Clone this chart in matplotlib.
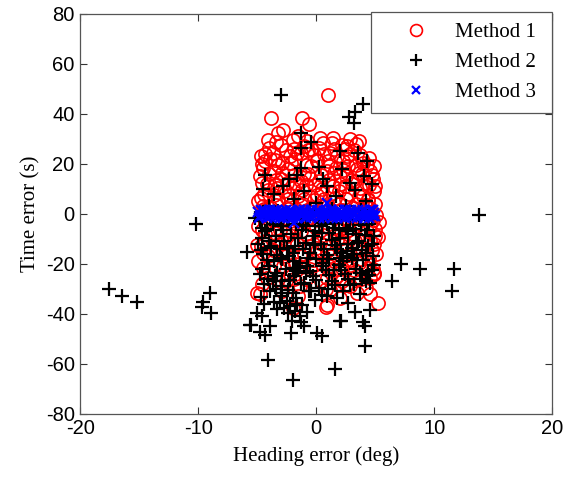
import matplotlib
matplotlib.use("Agg")
import matplotlib.pyplot as plt

plt.rcParams["axes.unicode_minus"] = False

# ---------------- data ----------------
# Method 1 (red circles)
m1_x = [1.0, -3.8, -1.2, -0.6, 3.6, -3.2, 0.6, -3.4, -2.0, 0.3, -2.8, -1.5, 2.9, -4.0,
        -4.3, -2.6, -1.0, 1.5, 2.6, 3.9, 4.3, -4.6, -3.5, -0.2, 1.0, 2.2, -1.8, 3.2, 4.6,
        -4.8, -4.2, -3.6, -3.0, -2.4, -1.7, -1.0, -0.4, 0.2, 0.9, 1.4, 2.0, 2.7, 3.3, 3.9,
        4.5, 4.8, -4.5, -2.0, 0.5, 2.4, 3.7, -3.3, 1.7, -0.9,
        -4.9, -4.4, -3.8, -3.2, -2.7, -2.1, -1.5, -0.8, -0.2, 0.4, 1.0, 1.6, 2.2, 2.8, 3.4,
        4.0, 4.6, 4.9, -4.0, -1.2, 1.3, 3.7, 5.1,
        -4.9, -4.3, -3.7, -3.1, -2.5, -1.9, -1.3, -0.6, 0.0, 0.6, 1.2, 1.9, 2.5, 3.1, 3.7,
        4.3, 4.8, 5.0, -4.6, 2.2, 5.3, 5.2,
        -4.7, -4.1, -3.5, -2.9, -2.3, -1.6, -1.0, -0.3, 0.3, 0.9, 1.5, 2.1, 2.7, 3.3, 3.9,
        4.5, 4.9, -4.9, 5.1, 1.8, -5.0,
        -4.6, -4.0, -3.2, -2.2, -1.4, -0.5, 0.4, 1.1, 1.8, 2.5, 3.2, 3.8, 4.4, 4.9, -3.6,
        2.9, 0.8, 4.2, 1.2, 4.86, 2.9,
        -4.8, -2.9, 0.9, 5.2, 3.5, -1.5, 2.0, 4.6, -5.0, -2.0, 0.8,
        -1.1, 0.1, 1.2, 2.3, -2.3, -3.9, 3.0, 4.1, -0.5, 1.9, -2.9, -4.1, 0.7, 2.6, -1.6,
        3.5, -3.4, 1.4, -0.7, 4.4, -4.4, 0.0, 2.0, -2.6, 3.8, -1.9, 1.1, -3.0, 4.7, 0.5,
        -3.0, -1.9, -0.8, 0.2, 1.3, 2.4, 3.4, -4.1,
        -4.7, -3.7, -2.2, -1.3, -0.4, 0.7, 1.8, 2.9, 3.7, 4.5,
        -4.3, -3.2, -2.1, -0.9, 0.1, 1.2, 2.3, 3.4, 4.0, 4.9,
        -4.0, -2.9, -1.9, -0.7, 0.4, 1.5, 2.5, 3.6, 4.7,
        -4.6, -3.5, -2.5, -1.3, -0.1, 1.1, 2.0, 3.0, 4.2, 5.0,
        -4.7, -3.6, -2.4, -1.0, 0.1, 1.3, 2.5, 3.6, 4.4,
        -4.5, -3.4, -2.4, -1.3, -0.4, 0.7, 1.9, 3.0, 4.2, 5.0,
        -4.3, -3.3, -2.2, -1.1, 0.2, 1.5, 2.8, 3.9, 4.6,
        -4.6, -3.5, -2.3, -0.9, 0.4, 1.6, 2.7, 4.0, 5.0,
        -4.3, -3.1, -2.0, -0.6, 0.7, 2.4, 3.6, 4.6,
        -4.5, -3.7, -2.5, -1.4, 0.1, 1.2, 2.9, 4.2,
        -4.5, -2.8, -1.8, -0.2, 1.5, 2.2, 3.6, 4.8,
        -4.2, -2.6, -0.9, 0.9, 2.2, 3.3, 4.6]
m1_y = [47.6, 38.3, 38.5, 35.9, 29.2, 32.3, 28.3, 28.9, 29.6, 30.5, 33.5, 31.0, 30.0, 26.5,
        24.0, 25.5, 27.0, 26.0, 23.0, 22.0, 19.5, 20.0, 21.5, 23.5, 21.0, 27.5, 22.0, 25.5, 17.0,
        15.0, 12.0, 17.0, 14.0, 18.0, 12.5, 16.0, 19.0, 13.0, 17.0, 11.0, 15.0, 19.0, 13.0, 16.0,
        11.5, 14.0, 18.5, 10.5, 10.0, 11.0, 10.5, 10.2, 18.5, 11.5,
        5.0, 8.0, 2.5, 6.0, 9.0, 3.5, 7.0, 1.5, 5.5, 8.5, 3.0, 6.5, 1.5, 8.0, 4.0,
        7.0, 2.5, 9.0, 0.5, 9.5, 0.5, 0.8, -0.5,
        -5.0, -8.0, -2.5, -6.5, -9.0, -3.5, -7.0, -1.5, -5.5, -8.5, -3.0, -6.5, -1.5, -8.0, -4.0,
        -7.0, -2.5, -9.0, -1.0, -9.8, -3.1, -9.1,
        -13.0, -17.0, -11.0, -15.0, -19.0, -12.0, -16.0, -18.5, -11.5, -15.0, -19.0, -12.5, -16.5, -11.0, -14.0,
        -18.0, -12.0, -19.0, -16.0, -10.5, -12.4,
        -28.0, -23.0, -26.0, -24.0, -29.0, -22.0, -27.0, -21.0, -25.0, -28.5, -22.5, -26.0, -21.5, -24.0, -21.0,
        -20.5, -30.0, -29.5, -30.4, -23.6, -29.0,
        -32.0, -31.0, -36.4, -35.6, -31.5, -33.0, -33.5, -32.0, -31.7, -37.7, -37.1,
        4.0, 21.5, 24.5, 17.5, 7.5, 22.0, 12.0, 3.5, 14.5, 9.0, 20.5, 9.5, 6.0, 27.0, 24.5,
        18.0, 13.5, 30.5, 25.5, 5.5, 2.0, -13.5, -22.0, -17.0, -18.0, -26.0, -5.5, -10.5, -14.5, -20.0,
        27.5, 26.0, 29.0, 26.5, 28.5, 26.0, 28.0, 29.5,
        23.0, 24.5, 23.0, 24.5, 26.0, 24.0, 23.0, 24.0, 23.5, 22.5,
        21.0, 19.5, 20.5, 19.5, 21.0, 19.5, 21.0, 19.5, 20.5, 19.0,
        16.0, 16.5, 15.5, 16.0, 15.5, 16.5, 15.0, 16.5, 15.5,
        12.5, 11.5, 12.5, 13.0, 11.5, 13.5, 12.0, 13.5, 12.5, 11.0,
        6.5, 7.5, 6.0, 6.0, 7.5, 8.5, 6.0, 7.0, 6.0,
        3.0, 3.5, 2.0, 3.5, 2.5, 3.0, 4.0, 2.5, 3.5, 4.0,
        -3.5, -2.0, -3.0, -2.5, -2.5, -1.8, -3.5, -2.0, -4.5,
        -6.5, -7.5, -6.5, -8.0, -6.5, -8.5, -6.5, -9.0, -6.0,
        -11.0, -12.0, -11.5, -13.0, -12.5, -14.0, -13.5, -10.5,
        -15.5, -14.5, -15.5, -16.5, -15.0, -17.0, -18.5, -15.5,
        -21.5, -21.0, -20.0, -20.5, -22.5, -21.5, -19.5, -22.0,
        -25.5, -27.0, -26.0, -25.5, -27.0, -25.5, -25.5]

# Method 2 (black plus)
m2_x = [-17.6, -16.5, -15.2, -10.15, -8.97, -9.6, -9.7, -8.9, -5.85, -5.65,
        13.8, 7.15, 8.76, 6.45, 11.67, 11.53,
        -5.5, -4.8, -4.36, -3.9, -4.07, -1.98, -2.1, -1.05, 0.08, 0.5, 1.58, 1.98, 4.1, 4.1,
        -2.97, 3.95, 3.27, 2.82, 3.19, -1.33, -0.48, -1.27, 2.0, 3.53, 0.28, -1.33, 4.04,
        -4.3, -2.3, -1.6,
        -4.5, -3.6, -2.8, -1.9, -1.0, 0.0, 0.9, 1.7, 2.5, 3.3, 4.2, 4.7, -4.0, -0.5, 1.3,
        2.9, -3.2, 3.8, -5.2, 2.2, 0.6, 4.3,
        -4.8, -4.3, -3.9, -3.4, -3.0, -2.5, -2.1, -1.7, -1.2, -0.7, -0.3, 0.2, 0.7, 1.1, 1.6,
        2.0, 2.5, 2.9, 3.4, 3.8, 4.3, 4.7, 4.9, -4.6, -1.5, 0.9, 3.1,
        -4.9, -4.5, -4.0, -3.6, -3.1, -2.7, -2.3, -1.8, -1.4, -0.9, -0.5, 0.0, 0.4, 0.9, 1.3,
        1.8, 2.3, 2.7, 3.2, 3.6, 4.0, 4.4, 4.8, -3.3, 0.6, 2.0, -2.0, 3.9,
        -4.8, -4.4, -4.0, -3.5, -3.0, -2.6, -2.2, -1.7, -1.3, -0.8, -0.3, 0.2, 0.8, 1.3, 1.9,
        2.4, 2.9, 3.4, 3.9, 4.4, 4.9, -2.4, 1.0, 4.6, -2.3,
        -5.0, -2.06, 3.3, 4.0, -0.06, 1.8, -0.77, -1.33, -4.7, -3.6, -2.75, -2.9, -2.5,
        -2.2, -1.8, -1.4, -3.3, -4.6, 2.06, -3.0, -1.6, 0.9, 2.7, 4.6, -0.4,
        -4.2, -3.8, -2.9, -2.0, -1.1, -0.1, 0.5, 1.5, 2.6, 3.5, 4.5, -3.7, -0.9, 1.9, 3.0,
        -4.6, -3.7, -2.8, -2.3, -1.4, -0.9, -0.1, 0.5, 1.4, 2.2, 2.7, 3.6, 4.1, 4.5,
        -4.7, -4.2, -3.8, -3.0, -2.5, -1.9, -1.1, -0.7, -0.2, 0.7, 1.1, 1.6, 2.1, 2.6, 3.0,
        3.5, 4.2, 4.7,
        -4.6, -4.1, -3.3, -2.9, -1.9, -1.5, -1.0, -0.5, 0.0, 0.5, 1.1, 1.6, 2.1, 2.7, 3.2,
        3.7, 4.2, 4.7,
        -3.9, -3.4, -2.0, -1.7, -1.2, -0.6, 0.5, 2.3, 3.7, -4.4, -3.1, -2.4]
m2_y = [-30.1, -32.8, -35.3, -4.1, -31.5, -35.3, -37.1, -39.5, -15.3, -44.4,
        -0.4, -20.0, -22.0, -26.8, -22.1, -30.7,
        -44.4, -47.1, -48.4, -44.8, -58.4, -66.4, -47.7, -44.8, -47.5, -49.0, -62.0, -43.0, -45.0, -53.0,
        47.6, 43.9, 40.9, 38.9, 36.5, 32.3, 28.9, 26.5, 25.2, 24.5, 18.7, 18.3, 15.3,
        15.6, 13.9, 15.6,
        10.0, 8.0, 11.0, 6.0, 9.0, 4.5, 11.0, 7.0, 3.0, 9.5, 5.0, 12.0, 3.0, 1.5, 2.0,
        12.5, 1.0, 1.5, -1.5, 18.0, 14.0, 21.0,
        -3.0, -7.0, -2.0, -9.0, -5.0, -1.5, -8.0, -4.0, -6.5, -2.5, -9.0, -5.0, -1.5, -7.5, -3.5,
        -9.5, -5.5, -2.5, -8.0, -4.5, -6.5, -2.0, -9.0, -9.5, -9.8, -4.0, -6.0,
        -12.0, -16.0, -11.0, -19.0, -14.0, -11.0, -17.0, -13.0, -19.5, -11.5, -15.5, -18.0, -12.0, -16.5, -10.5,
        -14.0, -19.0, -12.0, -16.0, -10.8, -18.5, -13.0, -17.0, -16.5, -19.5, -17.5, -15.5, -14.5,
        -24.0, -28.0, -21.0, -25.0, -29.0, -22.0, -26.5, -23.0, -28.0, -21.0, -25.0, -29.5, -22.5, -27.0, -20.5,
        -24.0, -28.5, -22.0, -26.0, -23.0, -20.5, -30.5, -30.0, -27.5, -26.4,
        -39.7, -42.7, -39.1, -43.1, -34.4, -33.7, -39.1, -43.1, -33.1, -35.1, -37.7, -33.0, -35.0,
        -37.0, -39.0, -41.0, -38.0, -41.0, -42.7, -31.5, -36.0, -33.0, -35.5, -38.5, -31.0,
        -6.0, -13.5, -18.0, -21.5, -4.5, -12.5, -7.5, -22.5, -15.0, -11.5, -24.5, -27.0, -23.5, -6.5, -17.5,
        -5.5, -4.0, -6.5, -3.0, -2.0, -5.0, -7.0, -3.5, -5.5, -2.0, -7.0, -2.5, -8.5, -4.0,
        -14.5, -18.5, -13.0, -17.5, -13.5, -19.0, -14.0, -17.5, -12.5, -14.0, -18.0, -12.5, -15.5, -17.0, -13.5,
        -18.5, -15.5, -12.0,
        -22.0, -26.0, -23.5, -27.0, -25.0, -21.5, -27.5, -23.0, -26.5, -21.0, -24.5, -28.5, -22.5, -26.0, -28.0,
        -23.5, -27.0, -22.5,
        -31.0, -30.0, -31.5, -33.5, -36.5, -31.0, -32.5, -31.0, -32.0, -36.0, -35.5, -39.5]

# Method 3 (blue x)
m3_x = [-4.9, -4.75, -4.62, -4.48, -4.33, -4.21, -4.05, -3.94, -3.81, -3.66, -3.52, -3.41,
        -3.27, -3.12, -3.01, -2.86, -2.74, -2.6, -2.47, -2.33, -2.19, -2.08, -1.93, -1.8,
        -1.67, -1.52, -1.4, -1.26, -1.13, -0.98, -0.86, -0.72, -0.59, -0.45, -0.31, -0.2,
        -0.06, 0.08, 0.21, 0.35, 0.47, 0.62, 0.74, 0.89, 1.02, 1.15, 1.29, 1.41, 1.56,
        1.68, 1.83, 1.95, 2.1, 2.22, 2.37, 2.5, 2.63, 2.77, 2.9, 3.04, 3.17, 3.31, 3.44,
        3.58, 3.7, 3.85, 3.97, 4.12, 4.25, 4.39, 4.52, 4.66, 4.79, 4.9,
        -4.85, -4.4, -3.9, -3.3, -2.8, -2.2, -1.6, -1.0, -0.4, 0.15, 0.7, 1.25, 1.8,
        2.45, 3.0, 3.55, 4.05, 4.6, 4.95, -1.9, 0.93,
        -4.68, -4.15, -3.6, -3.05, -2.55, -2.0, -1.45, -0.9, -0.35, 0.25, 0.8, 1.35, 1.9,
        2.4, 2.95, 3.5, 4.0, 4.5, 4.85, -4.3, -3.2, -2.1, -1.05, 0.0, 1.1, 2.2, 3.3, 4.35]
m3_y = [0.6, -0.8, 1.1, -0.3, 0.9, -1.2, 0.2, 1.4, -0.6, 0.4, -1.4, 1.0,
        -0.2, 0.7, -1.0, 1.3, -0.5, 0.1, -1.3, 0.8, -0.1, 1.2, -0.9, 0.5,
        -1.1, 0.3, 1.4, -0.4, 0.6, -1.3, 1.0, -0.7, 0.2, 1.5, -0.9, 0.4,
        -0.2, 1.1, -1.2, 0.7, -0.5, 1.3, 0.0, -1.0, 0.9, -0.3, 1.4, -1.4, 0.5,
        -0.6, 1.2, 0.1, -1.1, 0.8, -0.4, 1.5, -0.8, 0.3, 1.0, -1.3, 0.6, -0.1, 1.3,
        -0.9, 0.4, -0.6, 1.1, -1.2, 0.2, 0.9, -0.5, 1.4, -1.0, 0.3,
        -1.5, 1.5, -1.4, 1.5, -1.5, 1.4, -1.5, 1.5, -1.4, 1.5, -1.5, 1.4, -1.5,
        1.5, -1.4, 1.5, -1.5, 1.4, -0.8, -3.7, 4.3,
        1.6, -1.6, 1.7, -1.6, 1.6, -1.7, 1.6, -1.6, 1.7, -1.6, 1.6, -1.7, 1.6,
        -1.6, 1.7, -1.6, 1.6, -1.7, 1.6, 0.0, 0.1, -0.1, 0.0, 0.1, -0.1, 0.0, 0.1, -0.1]

labels = ["Method 1", "Method 2", "Method 3"]
x_ticks = [-20, -10, 0, 10, 20]
y_ticks = [-80, -60, -40, -20, 0, 20, 40, 60, 80]

# ---------------- plot ----------------
fig = plt.figure(figsize=(5.77, 4.79), dpi=100)
ax = fig.add_axes([0.139, 0.136, 0.818, 0.835])

ax.plot(m1_x, m1_y, linestyle="none", marker="o", markersize=9.5, markerfacecolor="none",
        markeredgecolor="#ff0000", markeredgewidth=1.2, label=labels[0])
ax.plot(m2_x, m2_y, linestyle="none", marker="+", markersize=10, color="black",
        markeredgewidth=1.6, label=labels[1])
ax.plot(m3_x, m3_y, linestyle="none", marker="x", markersize=7, color="#0000ff",
        markeredgewidth=1.6, label=labels[2])

ax.set_xlim(-20, 20)
ax.set_ylim(-80, 80)
ax.set_xticks(x_ticks)
ax.set_yticks(y_ticks)

tick_font = "Liberation Sans"
serif = "Liberation Serif"
for lab in ax.get_xticklabels() + ax.get_yticklabels():
    lab.set_fontfamily(tick_font)
    lab.set_fontsize(14.5)
ax.tick_params(direction="in", length=5, width=0.8, colors="#333333",
               labelcolor="black", top=True, right=True, pad=4)
for s in ax.spines.values():
    s.set_color("#555555")
    s.set_linewidth(0.9)

ax.set_xlabel("Heading error (deg)", fontfamily=serif, fontsize=15, labelpad=6)
ax.set_ylabel("Time error (s)", fontfamily=serif, fontsize=15, labelpad=4)

leg = ax.legend(loc="upper left", bbox_to_anchor=(0.6165, 0.0, 0.3835, 1.004),
                mode="expand", borderaxespad=0, frameon=True, fancybox=False,
                prop={"family": serif, "size": 15}, handletextpad=0.22,
                labelspacing=0.5, borderpad=0.5, handlelength=3.3, markerscale=0.9)
leg.get_frame().set_edgecolor("#555555")
leg.get_frame().set_linewidth(0.9)
leg.get_frame().set_alpha(1)

fig.savefig("out.png", dpi=100)
